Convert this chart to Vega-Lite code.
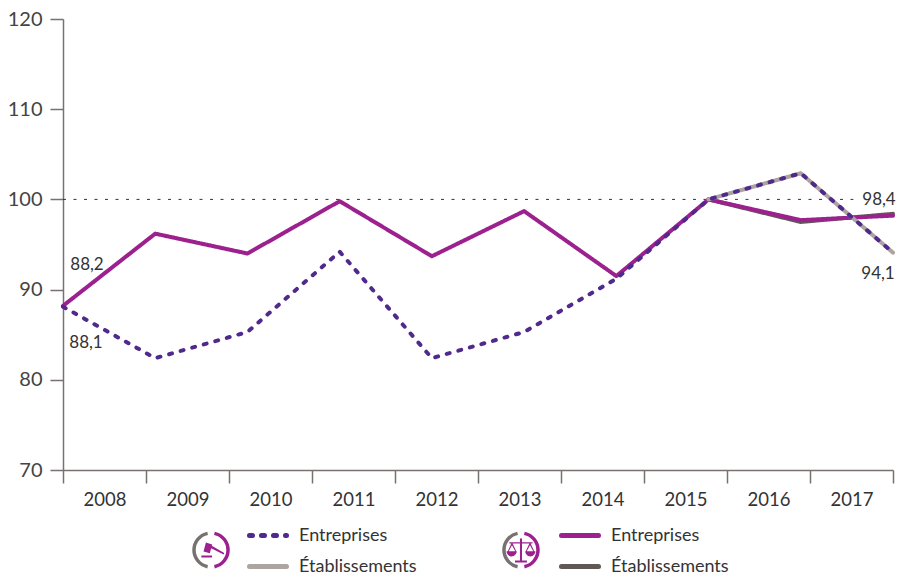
{"$schema":"https://vega.github.io/schema/vega-lite/v6.json","width":830,"height":451,"autosize":{"type":"none"},"padding":{"left":63,"top":19,"right":15,"bottom":104},"background":"white","config":{"view":{"stroke":null},"font":"Lato","style":{"guide-label":{"font":"Lato"}}},"datasets":{"series":[
{"year":2015,"value":100,"series":"Établissements B"},{"year":2016,"value":97.5,"series":"Établissements B"},{"year":2017,"value":98.4,"series":"Établissements B"},
{"year":2008,"value":88.2,"series":"Entreprises B"},{"year":2009,"value":96.2,"series":"Entreprises B"},{"year":2010,"value":94,"series":"Entreprises B"},{"year":2011,"value":99.8,"series":"Entreprises B"},{"year":2012,"value":93.7,"series":"Entreprises B"},{"year":2013,"value":98.7,"series":"Entreprises B"},{"year":2014,"value":91.5,"series":"Entreprises B"},{"year":2015,"value":100,"series":"Entreprises B"},{"year":2016,"value":97.7,"series":"Entreprises B"},{"year":2017,"value":98.2,"series":"Entreprises B"},
{"year":2015,"value":100,"series":"Établissements A"},{"year":2016,"value":102.9,"series":"Établissements A"},{"year":2017,"value":94.1,"series":"Établissements A"},
{"year":2008,"value":88.1,"series":"Entreprises A"},{"year":2009,"value":82.4,"series":"Entreprises A"},{"year":2010,"value":85.3,"series":"Entreprises A"},{"year":2011,"value":94.2,"series":"Entreprises A"},{"year":2012,"value":82.4,"series":"Entreprises A"},{"year":2013,"value":85.3,"series":"Entreprises A"},{"year":2014,"value":91.2,"series":"Entreprises A"},{"year":2015,"value":100,"series":"Entreprises A"},{"year":2016,"value":102.9,"series":"Entreprises A"},{"year":2017,"value":94.1,"series":"Entreprises A"}
],"years":[{"year":"2008"},{"year":"2009"},{"year":"2010"},{"year":"2011"},{"year":"2012"},{"year":"2013"},{"year":"2014"},{"year":"2015"},{"year":"2016"},{"year":"2017"}]},
"resolve":{"scale":{"x":"independent"}},
"layer":[
{"data":{"name":"years"},"mark":{"type":"rect","opacity":0},"encoding":{"x":{"field":"year","type":"nominal","scale":{"type":"band","paddingInner":0,"paddingOuter":0},"axis":{"title":null,"orient":"bottom","labelAngle":0,"tickBand":"extent","tickSize":13,"tickColor":"#77716f","tickWidth":1.5,"domainColor":"#77716f","domainWidth":1.5,"labelFontSize":18.5,"labelColor":"#333333","labelPadding":7,"grid":false}},
"y":{"datum":70,"type":"quantitative","scale":{"domain":[70,120],"nice":false},"axis":{"title":null,"values":[70,80,90,100,110,120],"tickSize":13,"tickColor":"#77716f","tickWidth":1.5,"domainColor":"#77716f","domainWidth":1.5,"labelFontSize":20,"labelColor":"#444444","labelPadding":8,"grid":false}}}},
{"data":{"values":[{"ref":100,"from":2008,"to":2016.57}]},"mark":{"type":"rule","stroke":"#333333","strokeWidth":1,"strokeDash":[3,7.5]},"encoding":{"x":{"field":"from","type":"quantitative","scale":{"domain":[2008,2017],"nice":false,"zero":false},"axis":null},"x2":{"field":"to"},"y":{"field":"ref","type":"quantitative"}}},
{"data":{"name":"series"},"mark":{"type":"line","strokeWidth":4,"strokeCap":"round","strokeJoin":"round"},"encoding":{
"x":{"field":"year","type":"quantitative","scale":{"domain":[2008,2017],"nice":false,"zero":false},"axis":null},
"y":{"field":"value","type":"quantitative"},
"order":{"field":"year"},
"detail":{"field":"series"},
"color":{"field":"series","type":"nominal","sort":null,"scale":{"domain":["Entreprises A","Établissements A","Entreprises B","Établissements B"],"range":["#4f2a8c","#ada4a1","#9c218f","#5f5856"]},"legend":{"title":null,"orient":"none","legendX":184,"legendY":495.5,"columns":2,"direction":"vertical","symbolType":"stroke","symbolSize":1369,"symbolStrokeWidth":5,"labelFontSize":18,"labelColor":"#333333","labelOffset":10,"rowPadding":-13,"columnPadding":134,"labelExpr":"slice(datum.label,0,-2)","encode":{"symbols":{"update":{"strokeCap":{"value":"round"}}}}}},
"strokeDash":{"field":"series","type":"nominal","sort":null,"scale":{"domain":["Entreprises A","Établissements A","Entreprises B","Établissements B"],"range":[[3,9],[1,0],[1,0],[1,0]]}}
}},
{"data":{"values":[{"year":2008,"value":88.2,"label":"88,2"}]},"mark":{"type":"text","fontSize":17,"color":"#333333","dx":24,"dy":-41},"encoding":{"x":{"field":"year","type":"quantitative","scale":{"domain":[2008,2017],"nice":false,"zero":false},"axis":null},"y":{"field":"value","type":"quantitative"},"text":{"field":"label"}}},
{"data":{"values":[{"year":2008,"value":88.1,"label":"88,1"}]},"mark":{"type":"text","fontSize":17,"color":"#333333","dx":23,"dy":36},"encoding":{"x":{"field":"year","type":"quantitative","scale":{"domain":[2008,2017],"nice":false,"zero":false},"axis":null},"y":{"field":"value","type":"quantitative"},"text":{"field":"label"}}},
{"data":{"values":[{"year":2017,"value":98.4,"label":"98,4"}]},"mark":{"type":"text","fontSize":17,"color":"#333333","dx":-14,"dy":-14},"encoding":{"x":{"field":"year","type":"quantitative","scale":{"domain":[2008,2017],"nice":false,"zero":false},"axis":null},"y":{"field":"value","type":"quantitative"},"text":{"field":"label"}}},
{"data":{"values":[{"year":2017,"value":94.1,"label":"94,1"}]},"mark":{"type":"text","fontSize":17,"color":"#333333","dx":-15,"dy":21},"encoding":{"x":{"field":"year","type":"quantitative","scale":{"domain":[2008,2017],"nice":false,"zero":false},"axis":null},"y":{"field":"value","type":"quantitative"},"text":{"field":"label"}}},
{"data":{"values":[{"icon":"gavel"}]},"mark":{"type":"point","filled":false,"opacity":1,"size":1156,"strokeWidth":3.5,"stroke":"#77716f","shape":"M-0.2,-0.98A1,1 0 0 0 -0.2,0.98"},"encoding":{"x":{"datum":2009.605,"type":"quantitative","scale":{"domain":[2008,2017],"nice":false,"zero":false},"axis":null},"y":{"datum":61.13,"type":"quantitative"}}},
{"data":{"values":[{"icon":"gavel"}]},"mark":{"type":"point","filled":false,"opacity":1,"size":1156,"strokeWidth":3.5,"stroke":"#9c218f","shape":"M0.2,-0.98A1,1 0 0 1 0.2,0.98"},"encoding":{"x":{"datum":2009.605,"type":"quantitative","scale":{"domain":[2008,2017],"nice":false,"zero":false},"axis":null},"y":{"datum":61.13,"type":"quantitative"}}},
{"data":{"values":[{"icon":"gavel"}]},"mark":{"type":"point","filled":true,"opacity":1,"size":1156,"fill":"#9c218f","stroke":null,"shape":"M-0.44,0.09L-0.3,-0.44L0.07,-0.33L-0.07,0.19ZM0.02,-0.27L0.78,0.17L0.74,0.27L-0.02,-0.12ZM-0.57,0.33L0.06,0.33L0.06,0.44L-0.57,0.44Z"},"encoding":{"x":{"datum":2009.605,"type":"quantitative","scale":{"domain":[2008,2017],"nice":false,"zero":false},"axis":null},"y":{"datum":61.13,"type":"quantitative"}}},
{"data":{"values":[{"icon":"scales"}]},"mark":{"type":"point","filled":false,"opacity":1,"size":1156,"strokeWidth":3.5,"stroke":"#77716f","shape":"M-0.2,-0.98A1,1 0 0 0 -0.2,0.98"},"encoding":{"x":{"datum":2012.966,"type":"quantitative","scale":{"domain":[2008,2017],"nice":false,"zero":false},"axis":null},"y":{"datum":61.13,"type":"quantitative"}}},
{"data":{"values":[{"icon":"scales"}]},"mark":{"type":"point","filled":false,"opacity":1,"size":1156,"strokeWidth":3.5,"stroke":"#9c218f","shape":"M0.2,-0.98A1,1 0 0 1 0.2,0.98"},"encoding":{"x":{"datum":2012.966,"type":"quantitative","scale":{"domain":[2008,2017],"nice":false,"zero":false},"axis":null},"y":{"datum":61.13,"type":"quantitative"}}},
{"data":{"values":[{"icon":"scales"}]},"mark":{"type":"point","filled":true,"opacity":1,"size":1156,"fill":"#9c218f","stroke":null,"shape":"M-0.06,-0.68L0.06,-0.68L0.06,0.62L0.35,0.62L0.35,0.74L-0.35,0.74L-0.35,0.62L-0.06,0.62ZM-0.68,-0.46L0.68,-0.46L0.68,-0.38L-0.68,-0.38ZM-0.85,0.08L-0.25,0.08A0.3,0.3 0 0 1 -0.85,0.08ZM0.25,0.08L0.85,0.08A0.3,0.3 0 0 1 0.25,0.08ZM-0.56,-0.4L-0.5,-0.4L-0.28,0.08L-0.34,0.08L-0.53,-0.28L-0.72,0.08L-0.78,0.08ZM0.5,-0.4L0.56,-0.4L0.78,0.08L0.72,0.08L0.53,-0.28L0.34,0.08L0.28,0.08Z"},"encoding":{"x":{"datum":2012.966,"type":"quantitative","scale":{"domain":[2008,2017],"nice":false,"zero":false},"axis":null},"y":{"datum":61.13,"type":"quantitative"}}}
]}
